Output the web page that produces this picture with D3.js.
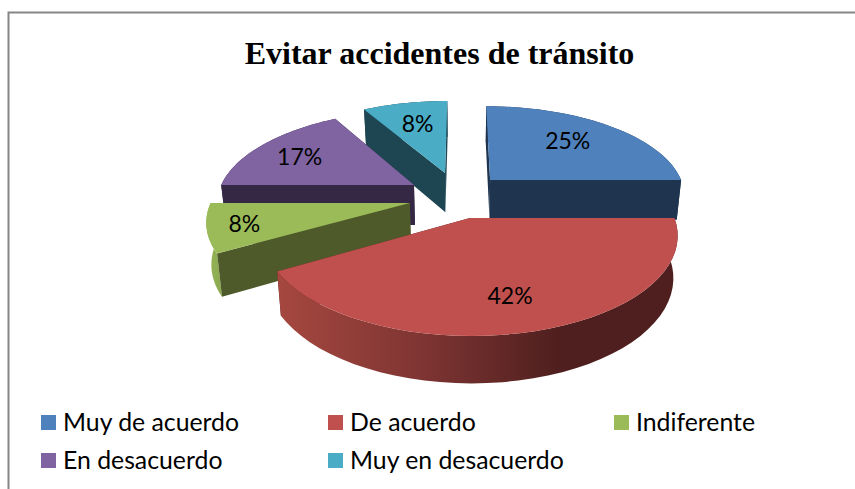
<!DOCTYPE html>
<html><head><meta charset="utf-8">
<script src="https://cdn.jsdelivr.net/npm/d3@7"></script>
<style>html,body{margin:0;padding:0;background:#fff}svg{display:block}</style>
</head><body><div id="c"></div>
<script>
const chartTitle = "Evitar accidentes de tránsito";
const categories = ["Muy de acuerdo","De acuerdo","Indiferente","En desacuerdo","Muy en desacuerdo"];
const values = [25,41.67,8.33,16.67,8.33];
const colors = ["#4f81bd","#c0504d","#9bbb59","#8064a2","#4bacc6"];
const darkColors = ["#1f344f","#4e1f1e","#4f5a2a","#352845","#1e4552"];
const drawOrder = [4,0,3,2,1];
// exploded offset of each slice on the pie plane, in radii
const explodeX = [0.147,0.039,-0.262,-0.249,-0.09];
const explodeY = [-0.306,0.109,-0.049,-0.248,-0.389];
const labelRadius = [0.7,0.6,0.72,0.62,0.68];
const labelDx = [-8,4,-21,-18,1];
const labelDy = [0,15,3,-2,1];

const W=855,H=489;
const svg=d3.select("#c").append("svg").attr("width",W).attr("height",H);
const defs=svg.append("defs");
const rg=defs.append("linearGradient").attr("id","redWall").attr("gradientUnits","userSpaceOnUse")
  .attr("x1",280).attr("x2",560).attr("y1",0).attr("y2",0);
rg.append("stop").attr("offset",0).attr("stop-color","#a5473f");
rg.append("stop").attr("offset",0.5).attr("stop-color","#7f3533");
rg.append("stop").attr("offset",1).attr("stop-color","#4e1f1e");
const gg=defs.append("linearGradient").attr("id","greenWall").attr("gradientUnits","userSpaceOnUse")
  .attr("x1",205).attr("x2",228).attr("y1",0).attr("y2",0);
gg.append("stop").attr("offset",0).attr("stop-color","#98b857");
gg.append("stop").attr("offset",1).attr("stop-color","#86a24c");

// perspective projection of the pie plane (y grows toward the viewer)
const Vy=-359,Cx=462,K=3399,C=6,S=0.3544,DEPTH=41;
function project(x,y,bottom){
  const d=K/(C-y), sy=Vy+d, sx=Cx+S*x*d;
  if(!bottom) return [sx,sy];
  return [Cx+(sx-Cx)*0.98, sy+DEPTH+(d-566)*0.05];
}
const line=d3.line();
const pie=d3.pie().sort(null)(values);
const pt=(i,r,a)=>[explodeX[i]+r*Math.sin(a),explodeY[i]-r*Math.cos(a)];

// frame
svg.append("path").attr("d","M8.5,"+H+"V12.5H"+W).attr("fill","none").attr("stroke","#868686").attr("stroke-width",2);

svg.append("text").attr("x",439.5).attr("y",64).attr("text-anchor","middle")
  .attr("font-family","'Liberation Serif'").attr("font-weight","bold").attr("font-size",32).attr("fill","#000").text(chartTitle);

const g=svg.append("g");
drawOrder.forEach(i=>{
  const p=pie[i];
  const arc=d3.range(0,41).map(k=>p.startAngle+(p.endAngle-p.startAngle)*k/40);
  const wall=(angs,fill)=>{
    const a=angs.map(t=>t===null?[explodeX[i],explodeY[i]]:pt(i,1,t));
    const top=a.map(q=>project(q[0],q[1],false));
    const bot=a.map(q=>project(q[0],q[1],true)).reverse();
    return {path:line(top.concat(bot))+"Z",fill,key:d3.mean(top,q=>q[1])};
  };
  const walls=[wall([null,p.startAngle],darkColors[i]),wall([null,p.endAngle],darkColors[i]),
    wall(arc,i===1?"url(#redWall)":i===2?"url(#greenWall)":darkColors[i])];
  walls.sort((a,b)=>a.key-b.key).forEach(w=>g.append("path").attr("d",w.path).attr("fill",w.fill));
  const face=[[explodeX[i],explodeY[i]]].concat(arc.map(t=>pt(i,1,t))).map(q=>project(q[0],q[1],false));
  g.append("path").attr("d",line(face)+"Z").attr("fill",colors[i]);
});
// data labels
pie.forEach((p,i)=>{
  const m=(p.startAngle+p.endAngle)/2, q=pt(i,labelRadius[i],m), s=project(q[0],q[1],false);
  g.append("text").attr("x",s[0]+labelDx[i]).attr("y",s[1]+8+labelDy[i]).attr("text-anchor","middle")
   .attr("font-family","Lato").attr("font-size",23).attr("fill","#000").text(d3.format(".0f")(values[i])+"%");
});
// legend
const lg=svg.append("g");
const colX=[41,328,614], rowY=[415,453];
categories.forEach((c,i)=>{
  const px=colX[i%3],py=rowY[Math.floor(i/3)];
  lg.append("rect").attr("x",px).attr("y",py).attr("width",15).attr("height",15).attr("fill",colors[i]);
  lg.append("text").attr("x",px+22).attr("y",py+15.5).attr("font-family","Lato").attr("font-size",24.8).attr("fill","#000").text(c);
});
</script></body></html>
